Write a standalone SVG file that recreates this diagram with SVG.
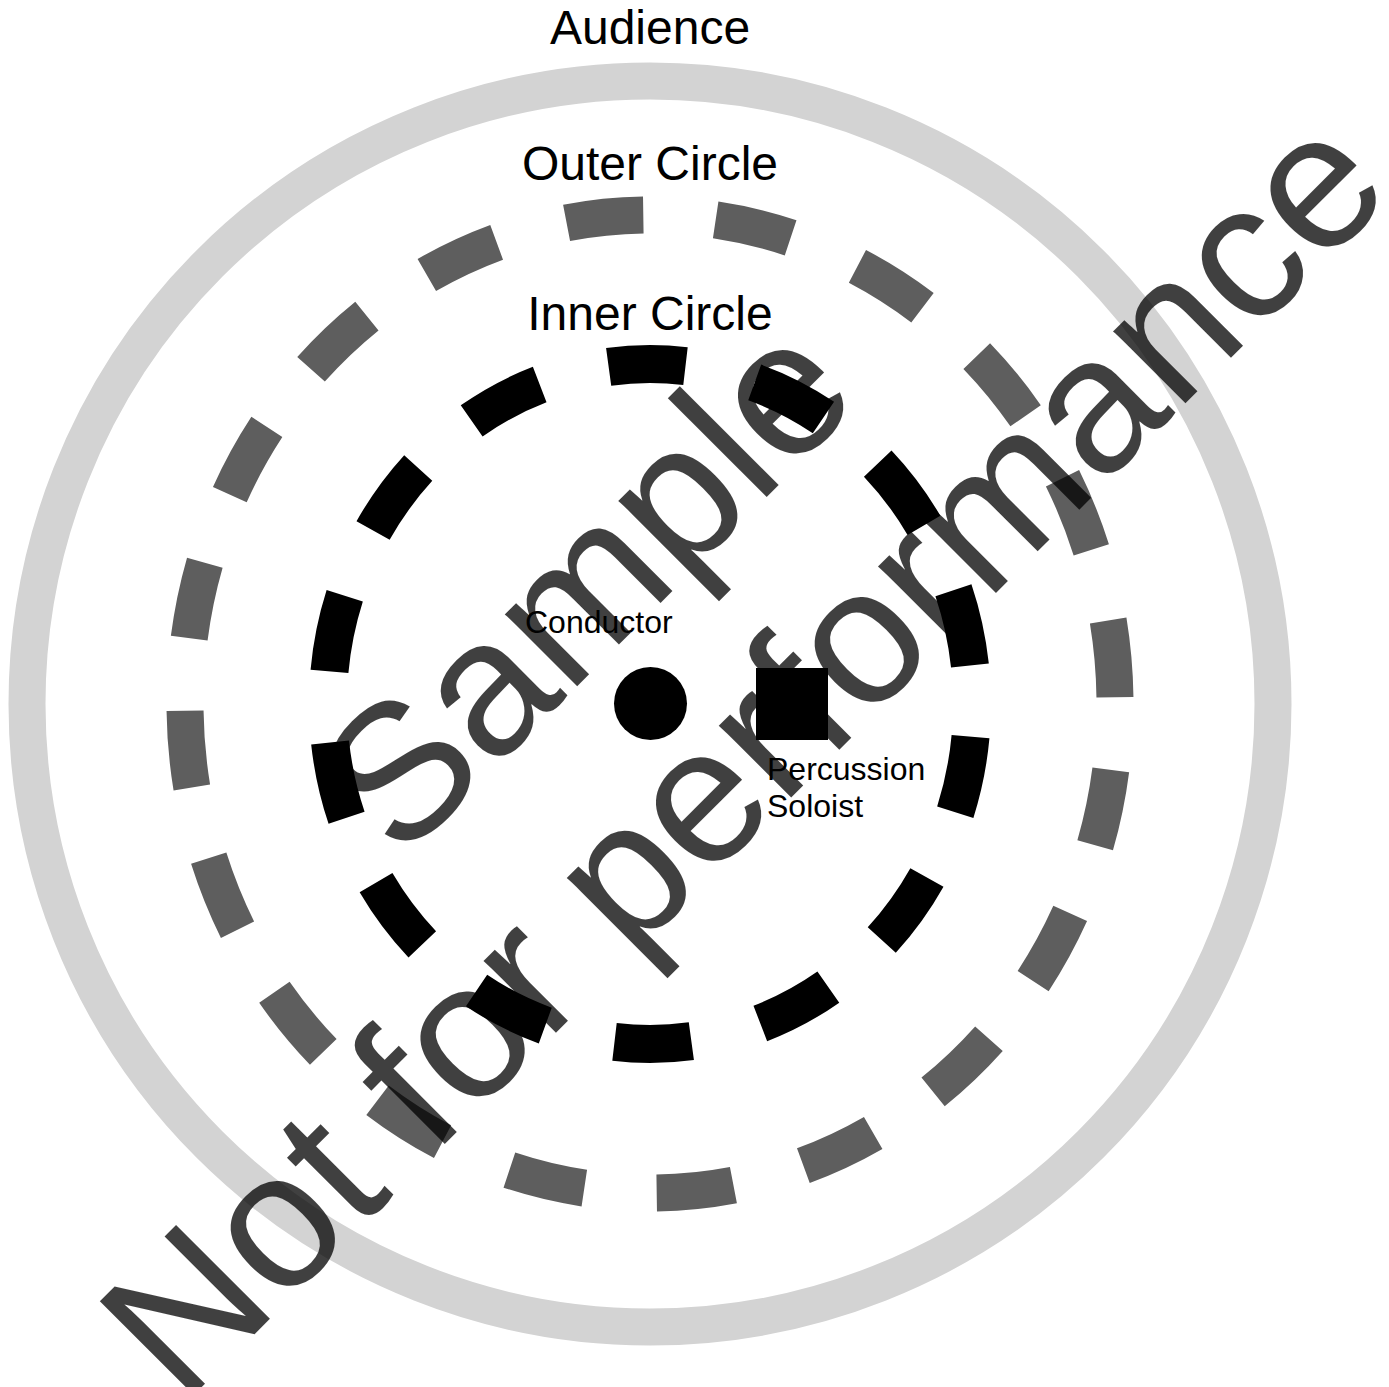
<svg xmlns="http://www.w3.org/2000/svg" width="1389" height="1387" viewBox="0 0 1389 1387">
<style>
.lbl{font-family:"Liberation Sans",Arial,Helvetica,sans-serif;fill:#000;}
.title{font-size:48px;text-anchor:middle;}
.small{font-size:32px;}
.wm{font-family:"Liberation Sans",Arial,Helvetica,sans-serif;font-size:193px;fill:#000;fill-opacity:0.75;text-anchor:middle;}
</style>
<rect width="1389" height="1387" fill="#fff"/>
<g id="audience">
<circle cx="650" cy="704" r="623" fill="none" stroke="#d3d3d3" stroke-width="37"/>
<text class="lbl title" x="650" y="44">Audience</text>
</g>
<g id="outer-circle">
<ellipse cx="650" cy="704" rx="465" ry="489" fill="none" stroke="#5e5e5e" stroke-width="37" pathLength="2000" stroke-dasharray="51.5 48.5" stroke-dashoffset="56"/>
<text class="lbl title" x="650" y="180">Outer Circle</text>
</g>
<g id="inner-circle">
<ellipse cx="650" cy="704" rx="322" ry="340" fill="none" stroke="#000" stroke-width="38" pathLength="1400" stroke-dasharray="52 48" stroke-dashoffset="78"/>
<text class="lbl title" x="650" y="330">Inner Circle</text>
</g>
<g id="connectors"></g>
<g id="conductor">
<circle cx="650.5" cy="703.5" r="36.5" fill="#000"/>
<text class="lbl small" x="525" y="633">Conductor</text>
</g>
<g id="percussion-soloist">
<rect x="756" y="668" width="72" height="72" fill="#000"/>
<text class="lbl small" x="767" y="780">Percussion</text>
<text class="lbl small" x="767" y="817">Soloist</text>
</g>
<g id="watermark" transform="translate(694.5,693.5) rotate(-45)">
<text class="wm" x="0" y="-88">Sample</text>
<text class="wm" x="-8" y="142">Not for performance</text>
</g>
</svg>
